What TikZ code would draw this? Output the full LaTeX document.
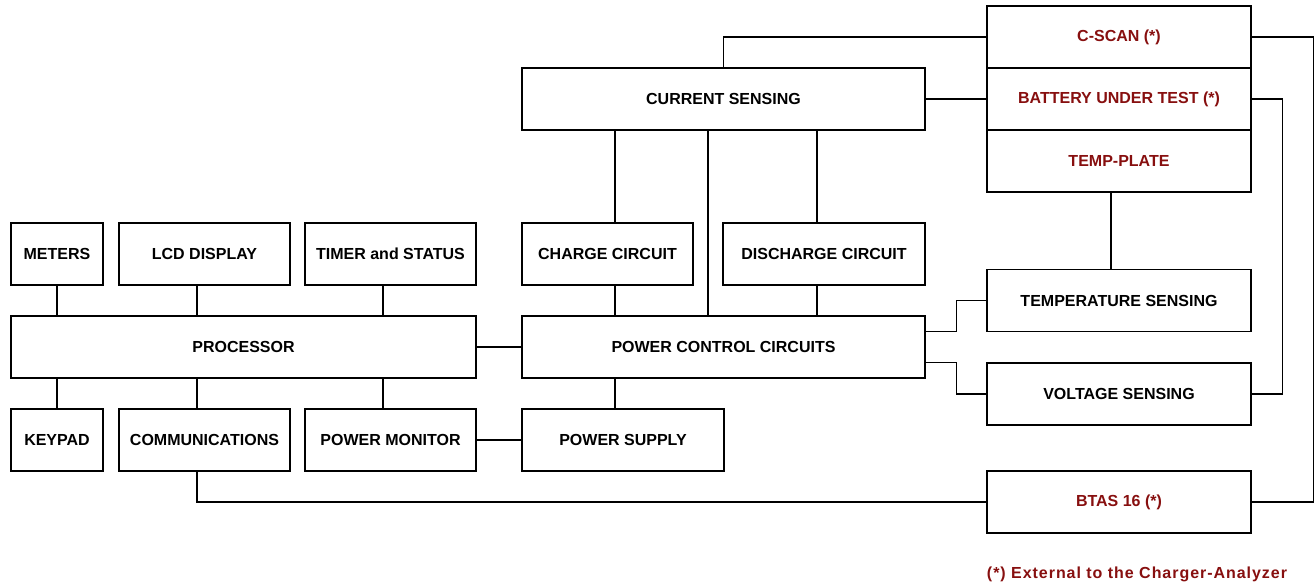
\documentclass[tikz,border=0pt]{standalone}
\usepackage{fontspec}
\setmainfont{Liberation Sans}
\definecolor{ext}{RGB}{135,15,15}
\begin{document}
\begin{tikzpicture}[x=1pt,y=-1pt,
  box/.style={draw, line width=1.1pt, inner sep=0pt, minimum height=62pt, font=\fontsize{16}{19}\selectfont\bfseries, align=center},
  extbox/.style={box, text=ext},
  wire/.style={line width=1.1pt}]
\useasboundingbox (0,0) rectangle (1314,584);
% left column
\node[box, minimum width=92pt]  (meters)  at (57,254) {METERS};
\node[box, minimum width=171pt] (lcd)     at (204.5,254) {LCD DISPLAY};
\node[box, minimum width=171pt] (timer)   at (390.5,254) {TIMER and STATUS};
\node[box, minimum width=465pt] (proc)    at (243.5,347) {PROCESSOR};
\node[box, minimum width=92pt]  (keypad)  at (57,440) {KEYPAD};
\node[box, minimum width=171pt] (comms)   at (204.5,440) {COMMUNICATIONS};
\node[box, minimum width=171pt] (pmon)    at (390.5,440) {POWER MONITOR};
% middle column
\node[box, minimum width=403pt] (cursens) at (723.5,99) {CURRENT SENSING};
\node[box, minimum width=171pt] (charge)  at (607.5,254) {CHARGE CIRCUIT};
\node[box, minimum width=202pt] (dischg)  at (824,254) {DISCHARGE CIRCUIT};
\node[box, minimum width=403pt] (pcc)     at (723.5,347) {POWER CONTROL CIRCUITS};
\node[box, minimum width=202pt] (psupply) at (623,440) {POWER SUPPLY};
% right column
\node[extbox, minimum width=264pt] (cscan)   at (1119,37) {C-SCAN (*)};
\node[extbox, minimum width=264pt] (battery) at (1119,99) {BATTERY UNDER TEST (*)};
\node[extbox, minimum width=264pt] (tplate)  at (1119,161) {TEMP-PLATE};
\node[box, minimum width=264pt]    (tsens)   at (1119,300.5) {TEMPERATURE SENSING};
\node[box, minimum width=264pt]    (vsens)   at (1119,394) {VOLTAGE SENSING};
\node[extbox, minimum width=264pt] (btas)    at (1119,502) {BTAS 16 (*)};
\node[text=ext, font=\fontsize{16}{19}\selectfont\bfseries\addfontfeatures{LetterSpace=6}] (note) at (1137,574) {(*) External to the Charger-Analyzer};
% helper x positions
\coordinate (xa) at (57,0);
\coordinate (xb) at (197,0);
\coordinate (xc) at (383,0);
\coordinate (xd) at (615,0);
\coordinate (xe) at (708,0);
\coordinate (xf) at (817,0);
\coordinate (xg) at (1111,0);
% left connectors
\draw[wire] (xa |- meters.south) -- (xa |- proc.north);
\draw[wire] (xb |- lcd.south) -- (xb |- proc.north);
\draw[wire] (xc |- timer.south) -- (xc |- proc.north);
\draw[wire] (xa |- proc.south) -- (xa |- keypad.north);
\draw[wire] (xb |- proc.south) -- (xb |- comms.north);
\draw[wire] (xc |- proc.south) -- (xc |- pmon.north);
\draw[wire] (proc.east) -- (pcc.west);
\draw[wire] (pmon.east) -- (pmon.east -| psupply.west);
% middle connectors
\draw[wire] (xd |- cursens.south) -- (xd |- charge.north);
\draw[wire] (xd |- charge.south) -- (xd |- pcc.north);
\draw[wire] (xe |- cursens.south) -- (xe |- pcc.north);
\draw[wire] (xf |- cursens.south) -- (xf |- dischg.north);
\draw[wire] (xf |- dischg.south) -- (xf |- pcc.north);
\draw[wire] (xd |- pcc.south) -- (xd |- psupply.north);
% right connectors
\draw[wire] (cursens.north) |- (cscan.west);
\draw[wire] (cursens.east) -- (battery.west);
\draw[wire] (xg |- tplate.south) -- (xg |- tsens.north);
\draw[wire] ([yshift=15.5pt]pcc.east) -- ++(31,0) |- (tsens.west);
\draw[wire] ([yshift=-15.5pt]pcc.east) -- ++(31,0) |- (vsens.west);
\draw[wire] (cscan.east) -- ++(61.5,0) |- (btas.east);
\draw[wire] (battery.east) -- ++(31,0) |- (vsens.east);
\draw[wire] (xb |- comms.south) |- (btas.west);
\end{tikzpicture}
\end{document}
